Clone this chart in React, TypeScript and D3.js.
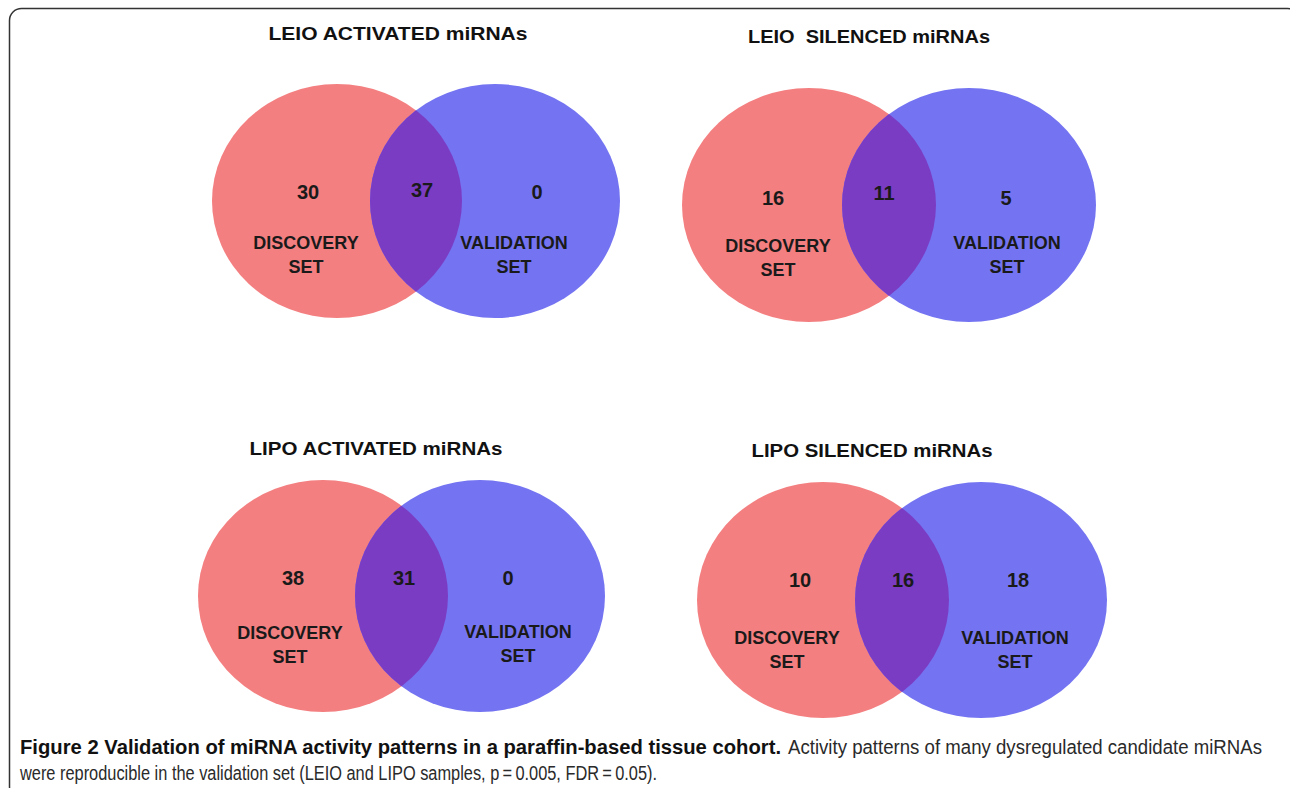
import React, { useId } from 'react';
import * as d3 from 'd3';

// venn counts, one entry per panel
const panelTitles = ['LEIO ACTIVATED miRNAs', 'LEIO  SILENCED miRNAs', 'LIPO ACTIVATED miRNAs', 'LIPO SILENCED miRNAs'];
const discoveryOnly = [30, 16, 38, 10];
const shared = [37, 11, 31, 16];
const validationOnly = [0, 5, 0, 18];
const setNames = [['DISCOVERY', 'SET'], ['VALIDATION', 'SET']];

const captionBold = 'Figure 2 Validation of miRNA activity patterns in a paraffin-based tissue cohort.';
const captionRest1 = 'Activity patterns of many dysregulated candidate miRNAs';
const captionRest2 = 'were reproducible in the validation set (LEIO and LIPO samples, p\u2009=\u20090.005, FDR\u2009=\u20090.05).';

// layout of each panel (pixels)
const layout = [
  { red: 337, blue: 495, cy: 201, rx: 125, ry: 117, titleX: 398, titleY: 40, titleW: 259,
    num: [[308, 199], [422, 197], [537, 199]], lab: [[306, 249], [514, 249]] },
  { red: 809, blue: 969, cy: 205, rx: 127, ry: 117, titleX: 869, titleY: 43, titleW: 242,
    num: [[773, 205], [884, 200], [1006, 205]], lab: [[778, 252], [1007, 249]] },
  { red: 323, blue: 480, cy: 596, rx: 125, ry: 116, titleX: 376, titleY: 455, titleW: 253,
    num: [[293, 585], [404, 585], [508, 585]], lab: [[290, 639], [518, 638]] },
  { red: 823, blue: 981, cy: 600, rx: 126, ry: 118, titleX: 872, titleY: 457, titleW: 241,
    num: [[800, 587], [903, 587], [1018, 587]], lab: [[787, 644], [1015, 644]] },
];

const RED = '#f47f80';
const BLUE = '#7474f2';
const PURPLE = '#7b3cc4';
const vennFont = '"Liberation Sans", Arial, sans-serif';
const capFont = '"Liberation Sans Narrow", "Arial Narrow", "Liberation Sans", sans-serif';

function Venn({ i, uid }: { i: number; uid: string }) {
  const L = layout[i];
  // 0 = discovery circle centre, 1 = validation circle centre
  const x = d3.scaleLinear().domain([0, 1]).range([L.red, L.blue]);
  const r = d3.scaleLinear().domain([0, 1]).range([0, L.rx]);
  const values = [discoveryOnly[i], shared[i], validationOnly[i]];
  const clipId = `${uid}-clip-${i}`;
  return (
    <g>
      <text x={L.titleX} y={L.titleY} textAnchor="middle" fontFamily={vennFont} fontWeight="bold"
        fontSize={19} textLength={L.titleW} lengthAdjust="spacingAndGlyphs" fill="#111"
        style={{ whiteSpace: 'pre' }}>
        {panelTitles[i]}
      </text>
      <defs>
        <clipPath id={clipId}>
          <ellipse cx={x(0)} cy={L.cy} rx={r(1)} ry={L.ry} />
        </clipPath>
      </defs>
      <ellipse cx={x(0)} cy={L.cy} rx={r(1)} ry={L.ry} fill={RED} />
      <ellipse cx={x(1)} cy={L.cy} rx={r(1)} ry={L.ry} fill={BLUE} />
      <ellipse cx={x(1)} cy={L.cy} rx={r(1)} ry={L.ry} fill={PURPLE} clipPath={`url(#${clipId})`} />
      {values.map((v, k) => (
        <text key={k} x={L.num[k][0]} y={L.num[k][1]} textAnchor="middle" fontFamily={vennFont}
          fontWeight="bold" fontSize={20} fill="#1a1a1a">{v}</text>
      ))}
      {setNames.map((lines, k) => (
        <text key={k} textAnchor="middle" fontFamily={vennFont} fontWeight="bold" fontSize={18} fill="#1a1a1a">
          {lines.map((t, j) => (
            <tspan key={j} x={L.lab[k][0]} y={L.lab[k][1] + j * 24}>{t}</tspan>
          ))}
        </text>
      ))}
    </g>
  );
}

export default function App() {
  const uid = useId().replace(/:/g, '');
  return (
    <svg width={1290} height={788} style={{ position: 'absolute', left: 0, top: 0, background: '#fff' }}>
      <rect x={9.5} y={8.5} width={1290} height={790} rx={12} fill="#fff" stroke="#333" strokeWidth={1.5} />
      {layout.map((_, i) => <Venn key={i} i={i} uid={uid} />)}
      <text x={20} y={754} fontFamily={capFont} fontSize={20} fontWeight="bold" fill="#111"
        textLength={761} lengthAdjust="spacingAndGlyphs">{captionBold}</text>
      <text x={788} y={754} fontFamily={capFont} fontSize={20} fill="#2a2a2a"
        textLength={474} lengthAdjust="spacingAndGlyphs">{captionRest1}</text>
      <text x={20} y={780} fontFamily={capFont} fontSize={20} fill="#2a2a2a"
        textLength={637} lengthAdjust="spacingAndGlyphs">{captionRest2}</text>
    </svg>
  );
}
